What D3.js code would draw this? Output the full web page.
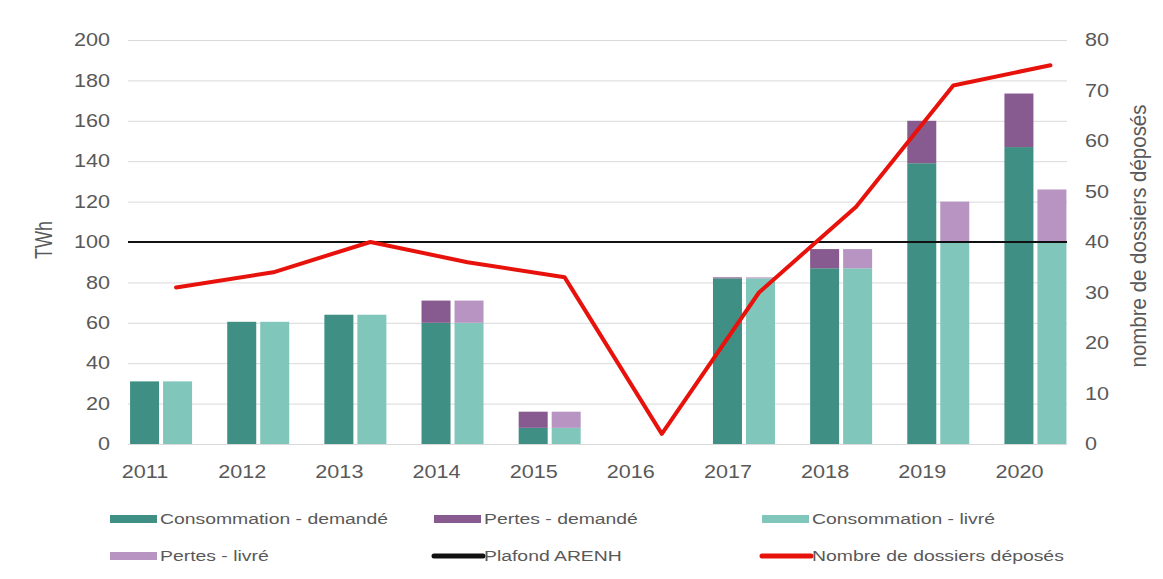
<!DOCTYPE html>
<html>
<head>
<meta charset="utf-8">
<script src="https://cdn.jsdelivr.net/npm/d3@7"></script>
<style>
  body { margin: 0; background: #fff; }
  text { font-family: "Liberation Sans", Arial, sans-serif; fill: #595959; }
</style>
</head>
<body>
<div id="chart"></div>
<script>
// données
const years = ["2011", "2012", "2013", "2014", "2015", "2016", "2017", "2018", "2019", "2020"];
const consoDemande = [31, 60.5, 64, 60, 8, 0, 82, 87, 139, 147];
const pertesDemande = [0, 0, 0, 11, 8, 0, 0.5, 9.5, 21, 26.5];
const consoLivre = [31, 60.5, 64, 60, 8, 0, 82, 87, 100, 100];
const pertesLivre = [0, 0, 0, 11, 8, 0, 0.5, 9.5, 20, 26];
const plafondArenh = 100;
const dossiers = [31, 34, 40, 36, 33, 2, 30, 47, 71, 75];

const colors = {
  consoD: "#408f84",
  pertesD: "#875b8f",
  consoL: "#80c6bb",
  pertesL: "#b894c2",
  plafond: "#111111",
  dossiers: "#e8120c"
};

const W = 1163, H = 579;
// zone du graphique
const plotLeft = 128, plotRight = 1067, plotTop = 40, plotBottom = 444;
const sx = 1.2; // le texte de l'image est étiré horizontalement

const svg = d3.select("#chart").append("svg")
  .attr("width", W).attr("height", H);

// échelles
const x = d3.scaleBand().domain(years).range([96.5, 1068]);
const xSub = d3.scaleBand().domain(["demandé", "livré"]).range([0, 62]).paddingInner(0.121);
const yL = d3.scaleLinear().domain([0, 200]).range([plotBottom, plotTop]);
const yR = d3.scaleLinear().domain([0, 80]).range([plotBottom, plotTop]);
const barShift = 16, lineShift = 31;

// grille + axe gauche
const gLeft = svg.append("g")
  .attr("transform", `translate(${plotLeft},0)`)
  .call(d3.axisLeft(yL).tickValues(d3.range(0, 201, 20)).tickSize(-(plotRight - plotLeft)).tickPadding(0));
gLeft.select(".domain").remove();
gLeft.selectAll(".tick line").attr("stroke", "#d9d9d9").attr("stroke-width", 1);
gLeft.selectAll(".tick text")
  .attr("x", -18 / sx)
  .attr("transform", `scale(${sx},1)`)
  .style("font-size", "18px").style("fill", "#595959");

// axe droit
const gRight = svg.append("g")
  .attr("transform", `translate(${plotRight},0)`)
  .call(d3.axisRight(yR).tickValues(d3.range(0, 81, 10)).tickSize(0));
gRight.select(".domain").remove();
gRight.selectAll(".tick text")
  .attr("x", 18 / sx)
  .attr("transform", `scale(${sx},1)`)
  .style("font-size", "18px").style("fill", "#595959");

// axe du bas
const gBottom = svg.append("g")
  .attr("transform", `translate(0,${plotBottom})`)
  .call(d3.axisBottom(x).tickSize(0).tickPadding(21));
gBottom.select(".domain").remove();
gBottom.selectAll(".tick text")
  .attr("transform", `scale(${sx},1)`)
  .style("font-size", "18px").style("fill", "#595959");

// barres empilées
const rows = years.map((yr, i) => ({ year: yr, cd: consoDemande[i], pd: pertesDemande[i], cl: consoLivre[i], pl: pertesLivre[i] }));
const barX = (d, k) => x(d.year) + x.bandwidth() / 2 + barShift - 31 + xSub(k);
const bw = xSub.bandwidth();

const bars = svg.append("g");
[
  { k: "demandé", base: d => 0, val: d => d.cd, c: colors.consoD },
  { k: "demandé", base: d => d.cd, val: d => d.pd, c: colors.pertesD },
  { k: "livré", base: d => 0, val: d => d.cl, c: colors.consoL },
  { k: "livré", base: d => d.cl, val: d => d.pl, c: colors.pertesL }
].forEach(s => {
  bars.selectAll(null)
    .data(rows.filter(d => s.val(d) > 0))
    .enter().append("rect")
    .attr("x", d => barX(d, s.k))
    .attr("width", bw)
    .attr("y", d => yL(s.base(d) + s.val(d)))
    .attr("height", d => yL(s.base(d)) - yL(s.base(d) + s.val(d)))
    .attr("fill", s.c);
});

// plafond ARENH
svg.append("line")
  .attr("x1", plotLeft).attr("x2", plotRight)
  .attr("y1", yL(plafondArenh)).attr("y2", yL(plafondArenh))
  .attr("stroke", colors.plafond).attr("stroke-width", 2);

// nombre de dossiers (axe droit)
const line = d3.line()
  .x((d, i) => x(years[i]) + x.bandwidth() / 2 + lineShift)
  .y(d => yR(d));
svg.append("path")
  .datum(dossiers)
  .attr("d", line)
  .attr("fill", "none")
  .attr("stroke", colors.dossiers)
  .attr("stroke-width", 4)
  .attr("stroke-linejoin", "round")
  .attr("stroke-linecap", "round");

// titres des axes
svg.append("text")
  .attr("transform", `translate(44,240) scale(1.3,1) rotate(-90)`)
  .attr("text-anchor", "middle").attr("dominant-baseline", "central")
  .style("font-size", "18px")
  .text("TWh");
svg.append("text")
  .attr("transform", `translate(1138,236) scale(1.05,1) rotate(-90)`)
  .attr("text-anchor", "middle").attr("dominant-baseline", "central")
  .style("font-size", "20.5px")
  .text("nombre de dossiers déposés");

// légende
const legendItems = [
  { label: "Consommation - demandé", type: "rect", c: colors.consoD, x: 110, y: 519 },
  { label: "Pertes - demandé", type: "rect", c: colors.pertesD, x: 434, y: 519 },
  { label: "Consommation - livré", type: "rect", c: colors.consoL, x: 762, y: 519 },
  { label: "Pertes - livré", type: "rect", c: colors.pertesL, x: 110, y: 556 },
  { label: "Plafond ARENH", type: "line", c: colors.plafond, x: 434, y: 556 },
  { label: "Nombre de dossiers déposés", type: "line", c: colors.dossiers, x: 762, y: 556 }
];
const leg = svg.append("g");
legendItems.forEach(it => {
  if (it.type === "rect") {
    leg.append("rect").attr("x", it.x).attr("y", it.y - 4).attr("width", 47).attr("height", 8).attr("fill", it.c);
  } else {
    leg.append("line").attr("x1", it.x).attr("x2", it.x + 49).attr("y1", it.y).attr("y2", it.y)
      .attr("stroke", it.c).attr("stroke-width", 5).attr("stroke-linecap", "round");
  }
  leg.append("text")
    .attr("transform", `translate(${it.x + 50},${it.y}) scale(1.25,1)`)
    .attr("dominant-baseline", "central")
    .style("font-size", "15.5px")
    .text(it.label);
});
</script>
</body>
</html>
